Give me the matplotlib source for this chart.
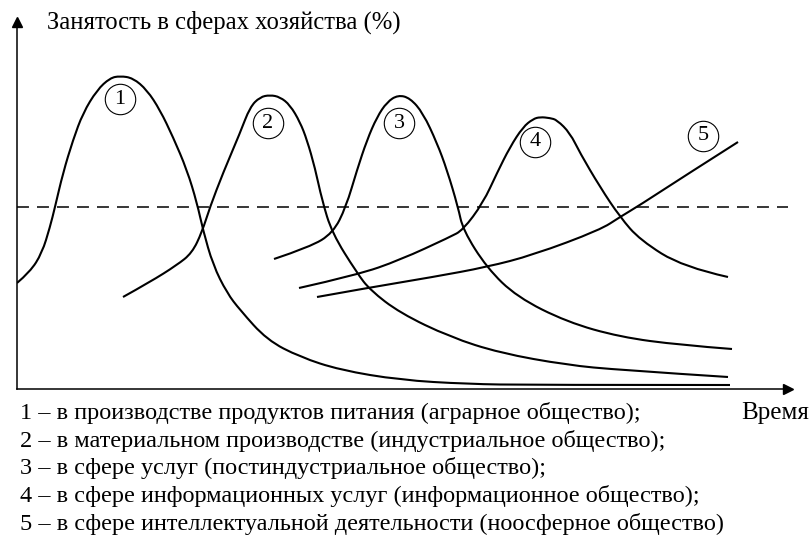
import matplotlib
matplotlib.use("Agg")
import matplotlib.pyplot as plt
from matplotlib.path import Path
from matplotlib.patches import PathPatch

plt.rcParams['font.family'] = ['Liberation Serif', 'DejaVu Serif']
plt.rcParams['lines.scale_dashes'] = False

# кривые занятости (время, доля)
t1 = [0, 13, 25, 33, 38, 46, 56, 66, 80, 93, 103, 116, 130, 143, 156, 170, 180, 186, 196, 210, 223, 250, 283, 323, 383, 450, 516, 713]
y1 = [106, 117, 136, 162, 182, 216, 249, 276, 299, 311, 313, 311, 299, 279, 252, 219, 186, 159, 124, 96, 79, 49, 32, 19, 9, 5, 4, 4]

t2 = [106, 133, 160, 175, 185, 193, 206, 223, 233, 243, 253, 263, 273, 283, 290, 298, 305, 315, 340, 353, 383, 433, 483, 550, 603, 711]
y2 = [92, 107, 124, 136, 157, 182, 216, 256, 282, 292, 294, 292, 284, 267, 249, 221, 189, 156, 116, 99, 76, 52, 36, 24, 19, 12]

t3 = [257, 293, 316, 329, 340, 350, 360, 370, 381, 393, 406, 420, 430, 441, 446, 470, 500, 550, 603, 663, 715]
y3 = [130, 142, 156, 182, 219, 249, 272, 287, 294, 291, 276, 246, 219, 182, 159, 121, 92, 67, 52, 44, 40]

t4 = [282, 340, 383, 433, 446, 466, 480, 493, 506, 516, 523, 533, 540, 553, 563, 583, 603, 623, 666, 711]
y4 = [101, 114, 129, 152, 159, 186, 216, 242, 262, 270, 272, 271, 269, 256, 236, 202, 172, 149, 122, 112]

t5 = [300, 350, 416, 470, 516, 583, 603, 623, 666, 721]
y5 = [92, 101, 112, 122, 134, 159, 172, 184, 212, 247]

curves = [(t1, y1), (t2, y2), (t3, y3), (t4, y4), (t5, y5)]

# номера кривых в кружках
label_nums = ['1', '2', '3', '4', '5']
label_t = [103, 251, 382, 518, 686]
label_y = [290, 266, 266, 247, 253]

threshold = 182
axis_title = 'Занятость в сферах хозяйства (%)'
time_label = 'Время'
legend_lines = [
    '1 – в производстве продуктов питания (аграрное общество);',
    '2 – в материальном производстве (индустриальное общество);',
    '3 – в сфере услуг (постиндустриальное общество);',
    '4 – в сфере информационных услуг (информационное общество);',
    '5 – в сфере интеллектуальной деятельности (ноосферное общество)',
]


def smooth_path(t, y):
    # плавная линия: квадратичные кривые Безье через середины отрезков
    pts = list(zip(t, y))
    verts = [pts[0]]
    codes = [Path.MOVETO]
    for i in range(1, len(pts) - 1):
        mid = ((pts[i][0] + pts[i + 1][0]) / 2, (pts[i][1] + pts[i + 1][1]) / 2)
        if i == len(pts) - 2:
            mid = pts[-1]
        verts += [pts[i], mid]
        codes += [Path.CURVE3, Path.CURVE3]
    return Path(verts, codes)


fig = plt.figure(figsize=(8.1, 5.38), dpi=100)
ax = fig.add_axes([17 / 810, 149 / 538, 771 / 810, 367 / 538])
ax.set_xlim(0, 771)
ax.set_ylim(0, 367)

for t, y in curves:
    ax.add_patch(PathPatch(smooth_path(t, y), fill=False, edgecolor='black', lw=1.5))

ax.axhline(threshold, color='black', lw=1.1, dashes=(8.6, 5.8))

ax.scatter(label_t, label_y, s=480, facecolors='white', edgecolors='black', linewidths=0.8, zorder=3)
for n, t, y in zip(label_nums, label_t, label_y):
    ax.text(t, y, n, ha='center', va='center', fontsize=16, zorder=4)

# оси со стрелками
for side in ['top', 'right']:
    ax.spines[side].set_visible(False)
for side in ['left', 'bottom']:
    ax.spines[side].set_linewidth(1.1)
ax.set_xticks([])
ax.set_yticks([])
ax.plot(0, 1, '^k', ms=7, transform=ax.transAxes, clip_on=False)
ax.plot(1, 0, '>k', ms=7, transform=ax.transAxes, clip_on=False)

fig.text(47 / 810, 1 - 29 / 538, axis_title, fontsize=17.7, va='baseline')
fig.text(809 / 810, 1 - 419 / 538, time_label, fontsize=18, ha='right', va='baseline')
for i, line in enumerate(legend_lines):
    fig.text(20 / 810, 1 - (419 + 27.7 * i) / 538, line, fontsize=17.5, va='baseline')

fig.savefig('out.png', dpi=100)
